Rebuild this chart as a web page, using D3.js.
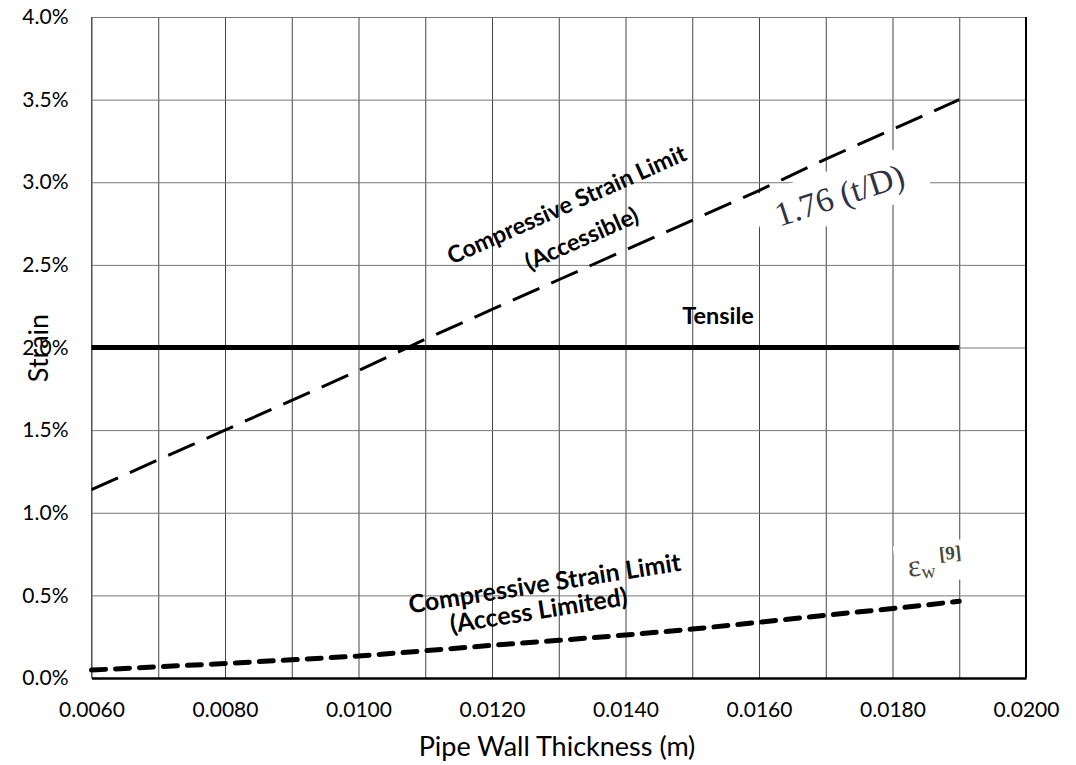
<html>
<head>
  <script src="https://d3js.org/d3.v7.min.js"></script>
  <style>
    body { margin: 0; background: #fff; }
    .tick text { font-family: Lato, Arial; font-size: 21px; fill: #000; }
    .lbl { font-family: Lato, Arial; font-weight: bold; font-size: 23.5px; fill: #000; }
    .title { font-family: Lato, Arial; font-size: 27px; fill: #000; }
  </style>
</head>
<body>
<svg id="chart" width="1076" height="765"></svg>
<script>
  // data
  const thickness = [0.006, 0.007, 0.008, 0.009, 0.010, 0.011, 0.012, 0.013, 0.014, 0.015, 0.016, 0.017, 0.018, 0.019];
  const accessible = [1.14, 1.32, 1.50, 1.68, 1.86, 2.05, 2.23, 2.41, 2.59, 2.77, 2.95, 3.14, 3.32, 3.50];
  const tensile = [2.0, 2.0, 2.0, 2.0, 2.0, 2.0, 2.0, 2.0, 2.0, 2.0, 2.0, 2.0, 2.0, 2.0];
  const accessLimited = [0.048, 0.068, 0.088, 0.11, 0.133, 0.165, 0.198, 0.228, 0.26, 0.296, 0.337, 0.38, 0.42, 0.464];
  const xTicks = [0.006, 0.008, 0.010, 0.012, 0.014, 0.016, 0.018, 0.020];
  const yTicks = [0, 0.5, 1.0, 1.5, 2.0, 2.5, 3.0, 3.5, 4.0];

  const svg = d3.select("svg#chart");
  const margin = {top: 17, right: 50, bottom: 87, left: 91.5};
  const width = +svg.attr("width");
  const height = +svg.attr("height");
  const chartWidth = width - margin.left - margin.right;
  const chartHeight = height - margin.top - margin.bottom;

  const x = d3.scaleLinear().domain([0.006, 0.020]).range([0, chartWidth]);
  const y = d3.scaleLinear().domain([0, 4]).range([chartHeight, 0]);

  let g = svg.append("g").attr("transform", "translate(" + margin.left + "," + margin.top + ")");

  // gridlines
  let vGrid = d3.axisBottom(x).tickValues(d3.range(0, 15).map(i => 0.006 + i * 0.001))
                .tickFormat("").tickSize(-chartHeight);
  g.append("g").attr("class", "vgrid").attr("transform", "translate(0," + chartHeight + ")").call(vGrid)
    .call(s => s.select(".domain").remove())
    .call(s => s.selectAll("line").attr("stroke", "#444"));
  let hGrid = d3.axisLeft(y).tickValues(yTicks).tickFormat("").tickSize(-chartWidth);
  g.append("g").attr("class", "hgrid").call(hGrid)
    .call(s => s.select(".domain").remove())
    .call(s => s.selectAll("line").attr("stroke", "#777"));

  // borders
  g.append("line").attr("x1", 0).attr("x2", 0).attr("y1", 0).attr("y2", chartHeight).attr("stroke", "#555");
  g.append("line").attr("x1", chartWidth).attr("x2", chartWidth).attr("y1", 0).attr("y2", chartHeight)
    .attr("stroke", "#000").attr("stroke-width", 2);

  // axes labels
  let bottomAxis = d3.axisBottom(x).tickValues(xTicks).tickFormat(d3.format(".4f")).tickSize(0);
  g.append("g").attr("transform", "translate(0," + chartHeight + ")").call(bottomAxis)
    .call(s => s.select(".domain").attr("stroke", "#000").attr("stroke-width", 2.5))
    .call(s => s.selectAll("text").attr("dy", null).attr("y", 39));
  let leftAxis = d3.axisLeft(y).tickValues(yTicks).tickFormat(d => d.toFixed(1) + "%").tickSize(0).tickPadding(23);
  g.append("g").call(leftAxis).call(s => s.select(".domain").remove());

  // boxes behind pasted formulas
  svg.append("rect").attr("x", -88).attr("y", -28).attr("width", 176).attr("height", 52)
     .attr("transform", "translate(842,196) rotate(-18)").attr("fill", "#fff");
  svg.append("rect").attr("x", -42).attr("y", -22).attr("width", 84).attr("height", 40)
     .attr("transform", "translate(937,564) rotate(-6)").attr("fill", "#fff");

  const line = d3.line().x(d => x(d[0])).y(d => y(d[1]));
  const pts = arr => thickness.map((t, i) => [t, arr[i]]);

  g.append("path").datum(pts(accessible)).attr("d", line)
    .attr("fill", "none").attr("stroke", "#000").attr("stroke-width", 3)
    .attr("stroke-dasharray", "29,13");
  g.append("path").datum(pts(tensile)).attr("d", line)
    .attr("fill", "none").attr("stroke", "#000").attr("stroke-width", 5);
  g.append("path").datum(pts(accessLimited)).attr("d", line)
    .attr("fill", "none").attr("stroke", "#000").attr("stroke-width", 5)
    .attr("stroke-linecap", "round").attr("stroke-dasharray", "14,10");

  // annotations
  svg.append("text").attr("class", "lbl").attr("text-anchor", "middle")
     .attr("transform", "translate(570,212) rotate(-24)").text("Compressive Strain Limit");
  svg.append("text").attr("class", "lbl").attr("text-anchor", "middle")
     .attr("transform", "translate(585,246) rotate(-24)").text("(Accessible)");
  svg.append("text").attr("class", "lbl").attr("text-anchor", "middle")
     .attr("transform", "translate(718,324)").text("Tensile");
  svg.append("text").attr("class", "lbl").attr("text-anchor", "middle").style("font-size", "25px")
     .attr("transform", "translate(546,592) rotate(-9)").text("Compressive Strain Limit");
  svg.append("text").attr("class", "lbl").attr("text-anchor", "middle").style("font-size", "25px")
     .attr("transform", "translate(540,619) rotate(-9)").text("(Access Limited)");

  svg.append("text").attr("text-anchor", "middle")
    .attr("transform", "translate(843,206) rotate(-18)")
    .style("font-family", "'Liberation Serif', serif").style("font-size", "34px").style("fill", "#2f3445")
    .text("1.76 (t/D)");

  let t2 = svg.append("text").attr("text-anchor", "middle")
    .attr("transform", "translate(936,574) rotate(-6)")
    .style("font-family", "'Liberation Serif', serif").style("fill", "#4a4538");
  t2.append("tspan").style("font-size", "31px").text("ε");
  t2.append("tspan").style("font-size", "20px").attr("dy", 3).text("w");
  t2.append("tspan").style("font-size", "19px").style("font-weight", "bold").attr("dy", -16).attr("dx", 5).text("[9]");

  // axis titles
  svg.append("text").attr("class", "title").attr("text-anchor", "middle")
     .attr("x", 557).attr("y", 756).text("Pipe Wall Thickness (m)");
  svg.append("text").attr("class", "title").attr("text-anchor", "middle")
     .attr("transform", "translate(48,348) rotate(-90)").text("Strain");
</script>
</body>
</html>
